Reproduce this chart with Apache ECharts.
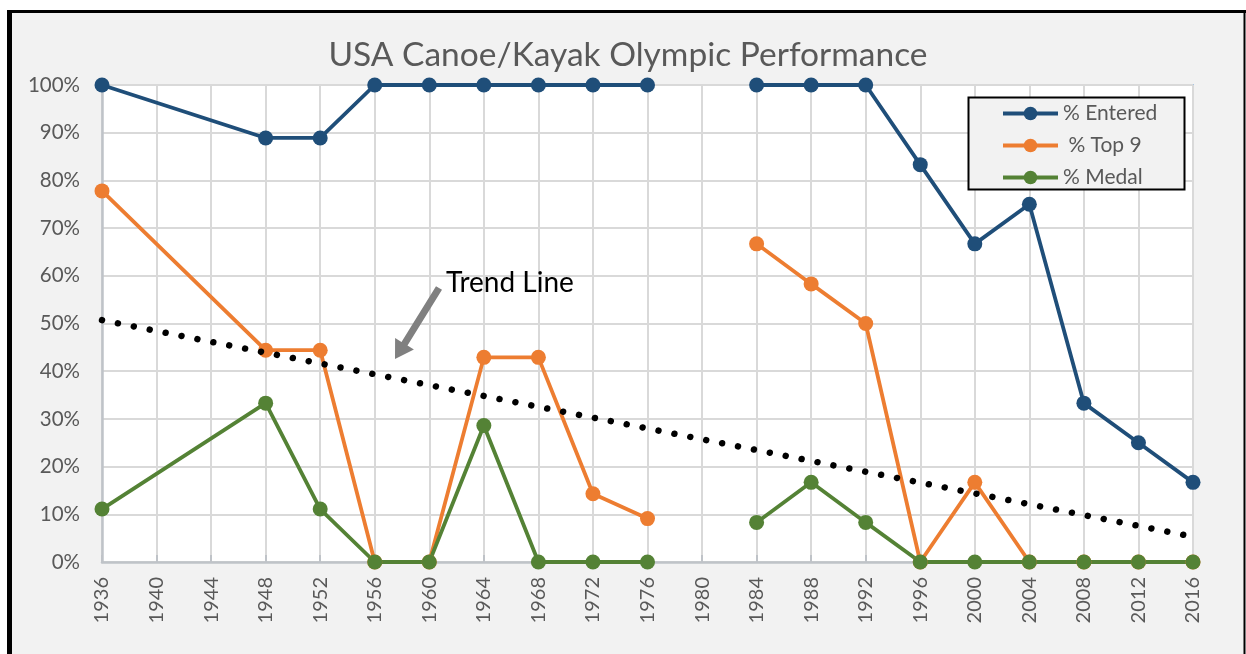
<!DOCTYPE html>
<html>
<head>
<meta charset="utf-8">
<script src="https://cdn.jsdelivr.net/npm/echarts@6/dist/echarts.min.js"></script>
<style>
html,body{margin:0;padding:0;background:#fff;}
#chart{width:1246px;height:654px;}
</style>
</head>
<body>
<div id="chart"></div>
<script>
// Data (1940/1944 absent; 1980 boycott -> null gap)
const years   = [1936, 1948, 1952, 1956, 1960, 1964, 1968, 1972, 1976, 1980, 1984, 1988, 1992, 1996, 2000, 2004, 2008, 2012, 2016];
const entered = [100, 88.9, 88.9, 100, 100, 100, 100, 100, 100, null, 100, 100, 100, 83.3, 66.7, 75, 33.3, 25, 16.7];
const top9    = [77.8, 44.4, 44.4, 0, 0, 42.9, 42.9, 14.3, 9.1, null, 66.7, 58.3, 50, 0, 16.7, 0, 0, 0, 0];
const medal   = [11.1, 33.3, 11.1, 0, 0, 28.6, 0, 0, 0, null, 8.3, 16.7, 8.3, 0, 0, 0, 0, 0, 0];
const trendYears = [1936, 2016];
const trendVals  = [50.7, 5.3];
const seriesNames = ['% Entered', ' % Top 9', '% Medal'];
const titleText = 'USA Canoe/Kayak Olympic Performance';
const annotationText = 'Trend Line';

const pairs = (xs, ys) => xs.map((x, i) => [x, ys[i] === null ? '-' : ys[i]]);
const FONT = 'Lato, "Open Sans", sans-serif';
const TXT = '#595959';

const chart = echarts.init(document.getElementById('chart'), null, {renderer: 'canvas'});

function lineSeries(name, color, vals) {
  return {
    name: name, type: 'line', data: pairs(years, vals),
    symbol: 'circle', symbolSize: 15, showSymbol: true,
    connectNulls: false,
    lineStyle: {color: color, width: 3.8},
    itemStyle: {color: color},
    emphasis: {disabled: true},
    animation: false
  };
}

chart.setOption({
  animation: false,
  backgroundColor: '#fff',
  grid: {left: 102, right: 53, top: 85, bottom: 92, show: true, backgroundColor: '#fff', borderColor: '#6fa3d8', borderWidth: 1.5},
  xAxis: {
    type: 'value', min: 1936, max: 2016, interval: 4,
    axisLine: {show: true, onZero: false, lineStyle: {color: '#bfc3c8', width: 2.5}},
    axisTick: {show: true, inside: true, length: 7, lineStyle: {color: '#bfc3c8', width: 2}},
    splitLine: {show: true, lineStyle: {color: '#d9d9d9', width: 2}},
    axisLabel: {rotate: 90, margin: 15, color: TXT, fontFamily: FONT, fontSize: 20, formatter: v => String(v)}
  },
  yAxis: {
    type: 'value', min: 0, max: 100, interval: 10,
    axisLine: {show: true, lineStyle: {color: '#bfc3c8', width: 2.5}},
    axisTick: {show: false},
    splitLine: {show: true, lineStyle: {color: '#d9d9d9', width: 2}},
    axisLabel: {margin: 22, color: TXT, fontFamily: FONT, fontSize: 20.5, formatter: '{value}%'}
  },
  legend: {
    show: true, z: 300, zlevel: 0, orient: 'vertical', left: 1001, top: 103, padding: 0,
    itemWidth: 55, itemHeight: 17, itemGap: 11,
    data: seriesNames,
    lineStyle: {width: 4},
    textStyle: {color: TXT, fontFamily: FONT, fontSize: 21, lineHeight: 20}
  },
  series: [
    lineSeries(seriesNames[0], '#1f4e79', entered),
    lineSeries(seriesNames[1], '#ed7d31', top9),
    lineSeries(seriesNames[2], '#548235', medal),
    {
      name: 'Trend', type: 'line', data: pairs(trendYears, trendVals),
      symbol: 'none', z: 5,
      lineStyle: {color: '#000', width: 6.5, type: [0.01, 16.2], cap: 'round'},
      emphasis: {disabled: true}, animation: false
    }
  ],
  graphic: [
    {type: 'rect', z: -100, silent: true, shape: {x: 10, y: 12, width: 1234, height: 660}, style: {fill: '#f2f2f2'}},
    {type: 'line', z: 100, silent: true, shape: {x1: 9.5, y1: 10, x2: 9.5, y2: 660}, style: {stroke: '#000', lineWidth: 5}},
    {type: 'line', z: 100, silent: true, shape: {x1: 7, y1: 11.5, x2: 1246, y2: 11.5}, style: {stroke: '#000', lineWidth: 3}},
    {type: 'line', z: 100, silent: true, shape: {x1: 1244.5, y1: 10, x2: 1244.5, y2: 660}, style: {stroke: '#000', lineWidth: 2}},
    {type: 'text', silent: true, style: {x: 628, y: 55, text: titleText, textAlign: 'center', textVerticalAlign: 'middle', fill: TXT, font: '33.5px ' + FONT}},
    {type: 'rect', z: 50, silent: true, shape: {x: 968.5, y: 97.5, width: 216, height: 92}, style: {fill: '#f2f2f2', stroke: '#000', lineWidth: 2}},
    {type: 'text', z: 60, silent: true, style: {x: 446, y: 283, text: annotationText, textAlign: 'left', textVerticalAlign: 'middle', fill: '#000', font: '28px ' + FONT}},
    {type: 'polygon', z: 60, silent: true, shape: {points: [[436,286.2],[442,289.8],[407.5,345.5],[413.9,349.5],[395,359],[395.1,337.9],[401.5,341.9]]}, style: {fill: '#808080'}}
  ]
});
</script>
</body>
</html>
